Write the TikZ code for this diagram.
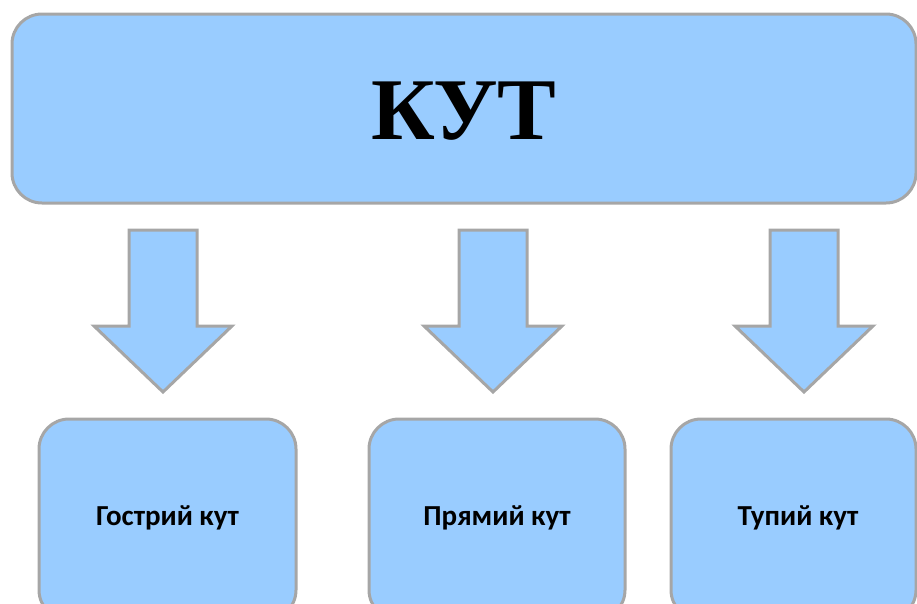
\documentclass[tikz,border=0pt]{standalone}
\usepackage{fontspec}
\setmainfont{Liberation Serif}
\newfontfamily\labelfont{Carlito}
\definecolor{boxfill}{HTML}{99CCFF}
\definecolor{boxline}{HTML}{A6A6A6}
\begin{document}
\begin{tikzpicture}[x=1pt,y=-1pt,
  panel/.style={draw=boxline,fill=boxfill,line width=3pt,rounded corners=30pt},
  blockarrow/.style={draw=boxline,fill=boxfill,line width=3pt,line join=miter},
  smalllabel/.style={font=\labelfont\bfseries\fontsize{29}{32}\selectfont,text=black}]
\useasboundingbox (0,0) rectangle (917,603);
\begin{scope}
\clip (0,0) rectangle (917,603);
% top box
\draw[panel] (12,14) rectangle (916,203);
\node[font=\bfseries\fontsize{88}{96}\selectfont] (top) at (464,111) {КУТ};
% bottom boxes
\draw[panel] (39,419) rectangle (296,620);
\draw[panel] (369,419) rectangle (625,620);
\draw[panel] (671,419) rectangle (916,620);
\node[smalllabel] (b1) at (167.5,518) {Гострий кут};
\node[smalllabel] (b2) at (497,518) {Прямий кут};
\node[smalllabel] (b3) at (798,518) {Тупий кут};
% arrows
\foreach \c/\n in {163/a1,493/a2,804/a3}{
  \coordinate (\n) at (\c,392);
  \draw[blockarrow] (\c-34,230) -- (\c+34,230) -- (\c+34,326) -- (\c+69,326)
     -- (\n) -- (\c-69,326) -- (\c-34,326) -- cycle;
}
\end{scope}
\end{tikzpicture}
\end{document}
